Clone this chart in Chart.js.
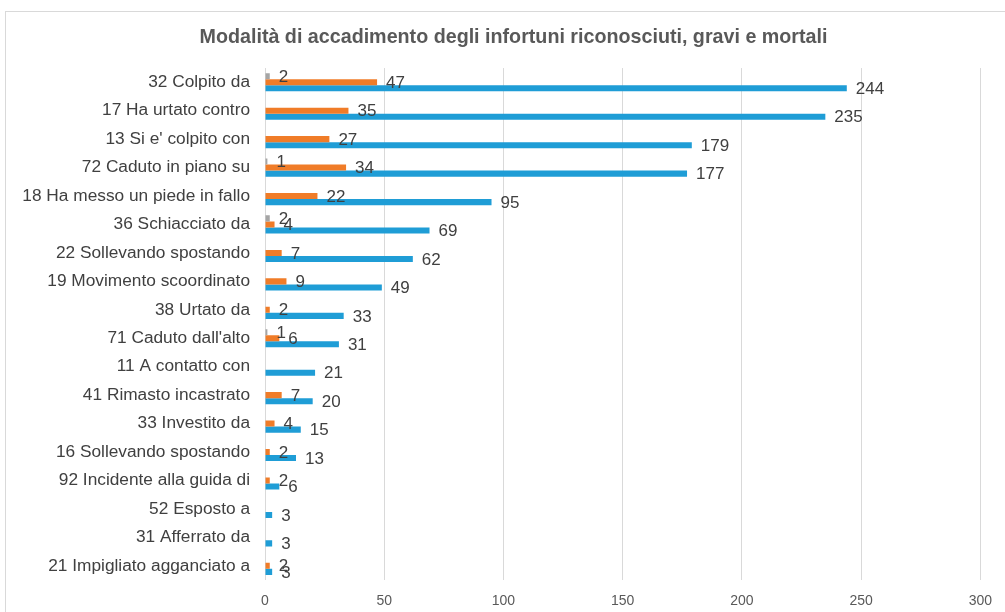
<!DOCTYPE html>
<html>
<head>
<meta charset="UTF-8">
<title>Modalità di accadimento</title>
<script src="https://cdn.jsdelivr.net/npm/chart.js@4/dist/chart.umd.min.js"></script>
<style>
  body { margin: 0; background: #fff; }
  .frame { position: absolute; left: 5px; top: 11px; width: 1020px; height: 640px; border: 1px solid #d9d9d9; }
  .wrap { position: absolute; left: 0; top: 0; width: 1005px; height: 612px; }
</style>
</head>
<body>
<div class="frame"></div>
<div class="wrap"><canvas id="chart"></canvas></div>
<script>
// categories, top to bottom
const categories = [
  "32 Colpito da", "17 Ha urtato contro", "13 Si e' colpito con", "72 Caduto in piano su",
  "18 Ha messo un piede in fallo", "36 Schiacciato da", "22 Sollevando spostando",
  "19 Movimento scoordinato", "38 Urtato da", "71 Caduto dall'alto", "11 A contatto con",
  "41 Rimasto incastrato", "33 Investito da", "16 Sollevando spostando",
  "92 Incidente alla guida di", "52 Esposto a", "31 Afferrato da", "21 Impigliato agganciato a"
];
const mortali      = [2, null, null, 1, null, 2, null, null, null, 1, null, null, null, null, null, null, null, null];
const gravi        = [47, 35, 27, 34, 22, 4, 7, 9, 2, 6, null, 7, 4, 2, 2, null, null, 2];
const riconosciuti = [244, 235, 179, 177, 95, 69, 62, 49, 33, 31, 21, 20, 15, 13, 6, 3, 3, 3];
const xTicks = [0, 50, 100, 150, 200, 250, 300];

const FONT = "'Liberation Sans', Arial, sans-serif";

// value labels to the right of each bar
const barLabels = {
  id: 'barLabels',
  afterDatasetsDraw(chart) {
    const ctx = chart.ctx;
    ctx.save();
    ctx.font = "17px " + FONT;
    ctx.fillStyle = "#404040";
    ctx.textAlign = "left";
    ctx.textBaseline = "middle";
    chart.data.datasets.forEach((ds, i) => {
      chart.getDatasetMeta(i).data.forEach((bar, j) => {
        const v = ds.data[j];
        if (v === null || v === undefined) return;
        ctx.fillText(String(v), bar.x + 9, bar.y + 1);
      });
    });
    ctx.restore();
  }
};

// let the long category labels run into the left padding instead of being clipped
const wideLabels = {
  id: 'wideLabels',
  afterLayout(chart) { chart.scales.y.left = 0; }
};

new Chart(document.getElementById("chart"), {
  type: "bar",
  data: {
    labels: categories,
    datasets: [
      { label: "Mortali", data: mortali, backgroundColor: "#a5a5a5" },
      { label: "Gravi", data: gravi, backgroundColor: "#f07c28" },
      { label: "Riconosciuti", data: riconosciuti, backgroundColor: "#1f9dd6" }
    ]
  },
  options: {
    indexAxis: "y",
    responsive: true,
    maintainAspectRatio: false,
    animation: false,
    layout: { padding: { left: 43, right: 21, top: 0, bottom: 0 } },
    datasets: { bar: { categoryPercentage: 0.64, barPercentage: 1 } },
    plugins: {
      legend: { display: false },
      tooltip: { enabled: false },
      title: {
        display: true,
        text: "Modalità di accadimento degli infortuni riconosciuti, gravi e mortali",
        color: "#595959",
        font: { family: FONT, size: 19.7, weight: "bold" },
        padding: { top: 26.2, bottom: 18.2 }
      }
    },
    scales: {
      x: {
        min: 0, max: 300,
        afterBuildTicks(scale) { scale.ticks = xTicks.map(v => ({ value: v })); },
        afterFit(scale) { scale.height = 32; },
        grid: { color: "#d9d9d9", drawTicks: false },
        border: { display: false },
        ticks: { color: "#595959", padding: 13, font: { family: FONT, size: 14 } }
      },
      y: {
        afterFit(scale) { scale.width = 222; },
        grid: { display: false, drawTicks: false },
        border: { display: false },
        ticks: { color: "#404040", padding: 15, font: { family: FONT, size: 17.3 } }
      }
    }
  },
  plugins: [barLabels, wideLabels]
});
</script>
</body>
</html>
